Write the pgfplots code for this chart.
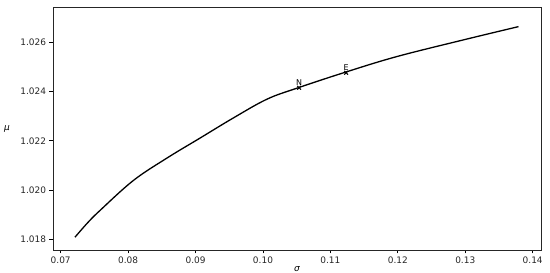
\documentclass[border=0pt]{standalone}
\usepackage{fontspec}
\setmainfont{DejaVu Sans}
\usepackage{pgfplots}
\pgfplotsset{compat=1.18}

\begin{document}
\begin{tikzpicture}
\begin{axis}[
    name=ax,
    scale only axis,
    width=488bp,
    height=243bp,
    xmin=0.06886, xmax=0.14123,
    ymin=1.01755, ymax=1.02745,
    xtick={0.07,0.08,...,0.145},
    ytick={1.018,1.020,...,1.0265},
    xticklabels={0.07,0.08,0.09,0.10,0.11,0.12,0.13,0.14},
    yticklabel style={/pgf/number format/.cd,fixed,fixed zerofill,precision=3},
    /pgf/number format/assume math mode=true,
    tick align=outside,
    xtick pos=left, ytick pos=left,
    major tick length=3.5bp,
    tick style={black, line width=0.7bp},
    axis line style={black!85, line width=0.9bp},
    ticklabel style={font=\fontsize{9}{10}\selectfont, black!85},
    xlabel={\textit{σ}},
    ylabel={\textit{μ}},
    label style={font=\fontsize{9}{10}\selectfont},
    xlabel style={at={(rel axis cs:0.5,0)}, anchor=north, yshift=-13bp},
    ylabel style={rotate=-90, at={(rel axis cs:0,0.5)}, anchor=center, xshift=-46bp},
    clip=false,
]
\addplot[black, line width=1.3bp, smooth, tension=0.6] coordinates {
    (0.07212,1.01807) (0.07400,1.01866) (0.07583,1.01916) (0.08077,1.02038)
    (0.08573,1.02129) (0.09067,1.02211) (0.09561,1.02293) (0.10056,1.02369)
    (0.10501,1.02414) (0.11218,1.02479) (0.11985,1.02543) (0.12973,1.02611)
    (0.13789,1.02665)
};
\addplot[only marks, mark=x, mark size=2.6bp, black, line width=1bp,
    point meta=explicit symbolic,
    nodes near coords,
    nodes near coords style={font=\fontsize{8}{9}\selectfont, anchor=south, yshift=-1.5bp}]
    coordinates {
    (0.10536,1.02416) [N]
    (0.11233,1.02477) [E]
};
\end{axis}
\pgfresetboundingbox
\path ([shift={(-53bp,-23bp)}]ax.south west) rectangle ([shift={(9bp,7bp)}]ax.north east);
\end{tikzpicture}
\end{document}
